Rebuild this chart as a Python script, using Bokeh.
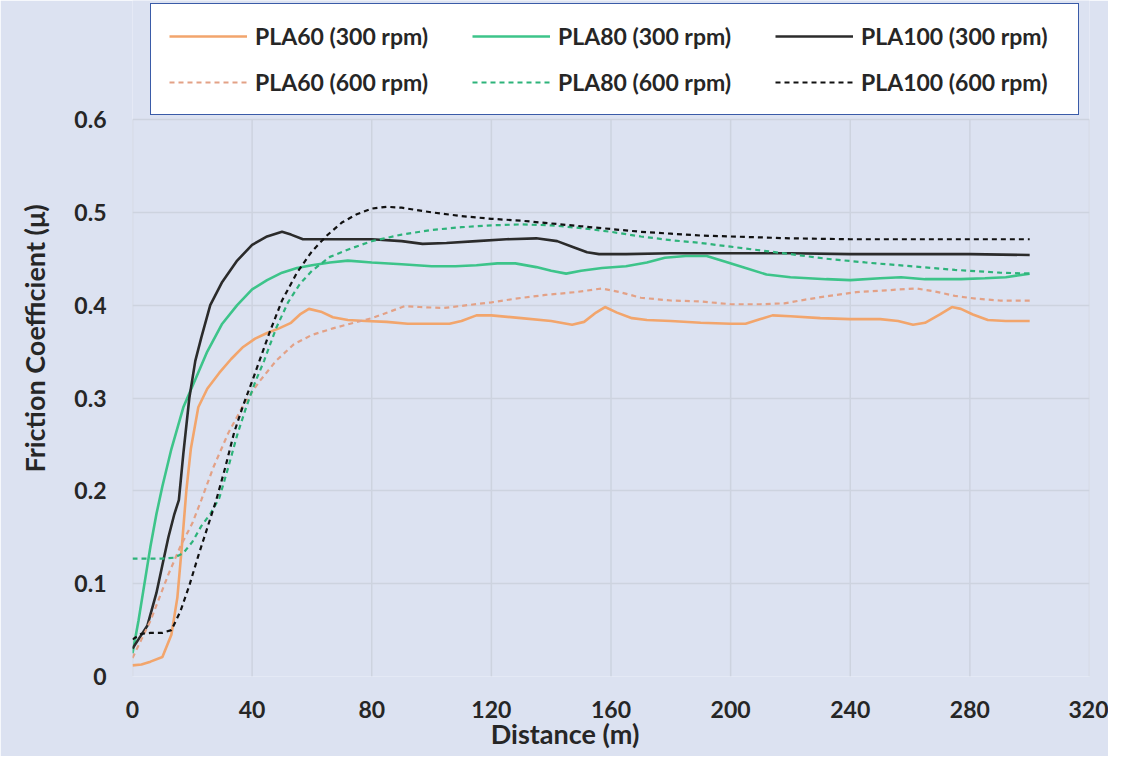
from bokeh.plotting import figure
from bokeh.models import Range1d, Legend, LegendItem, FixedTicker
from bokeh.embed import file_html
from bokeh.resources import INLINE

# ---- data ----
x_pla60_300 = [0, 3, 6, 10, 13, 15, 16.5, 18, 19.5, 22, 25, 29, 33, 37, 41, 45, 49, 53, 56, 59, 63, 67, 72, 78, 85, 92,
               100, 106, 110, 115, 120, 130, 140, 147, 151, 155, 158, 162, 167, 172, 180, 190, 200, 205, 210, 214,
               220, 230, 240, 250, 256, 261, 265, 270, 274, 277, 281, 286, 292, 300]
y_pla60_300 = [0.012, 0.013, 0.016, 0.021, 0.045, 0.085, 0.14, 0.2, 0.245, 0.29, 0.31, 0.327, 0.342, 0.355, 0.364,
               0.37, 0.375, 0.381, 0.39, 0.396, 0.393, 0.387, 0.384, 0.383, 0.382, 0.38, 0.38, 0.38, 0.383, 0.389,
               0.389, 0.386, 0.383, 0.379, 0.382, 0.392, 0.398, 0.392, 0.386, 0.384, 0.383, 0.381, 0.38, 0.38,
               0.385, 0.389, 0.388, 0.386, 0.385, 0.385, 0.383, 0.379, 0.381, 0.39, 0.398, 0.396, 0.39, 0.384,
               0.383, 0.383]

x_pla60_600 = [0, 3, 6, 9, 12, 16, 20, 23, 27, 32, 37, 42, 48, 54, 60, 67, 74, 80, 86, 91, 96, 104, 112, 120, 128,
               138, 148, 157, 163, 170, 180, 190, 200, 210, 218, 225, 233, 242, 252, 262, 268, 275, 282, 290, 300]
y_pla60_600 = [0.02, 0.04, 0.06, 0.085, 0.11, 0.14, 0.165, 0.19, 0.225, 0.262, 0.292, 0.316, 0.34, 0.358, 0.368,
               0.375, 0.381, 0.386, 0.393, 0.399, 0.398, 0.397, 0.4, 0.403, 0.407, 0.411, 0.414, 0.418, 0.414,
               0.408, 0.405, 0.404, 0.401, 0.401, 0.402, 0.406, 0.41, 0.414, 0.416, 0.418, 0.415, 0.41, 0.407,
               0.405, 0.405]

x_pla80_300 = [0, 2, 4, 6, 8, 10, 13, 17, 21, 25, 30, 35, 40, 45, 50, 55, 60, 66, 72, 80, 90, 100, 108, 115, 122,
               128, 135, 140, 145, 150, 157, 165, 172, 178, 185, 192, 198, 205, 212, 220, 232, 240, 250, 257, 265,
               277, 285, 292, 300]
y_pla80_300 = [0.025, 0.06, 0.1, 0.14, 0.175, 0.205, 0.245, 0.29, 0.32, 0.35, 0.38, 0.4, 0.417, 0.427, 0.435, 0.44,
               0.443, 0.446, 0.448, 0.446, 0.444, 0.442, 0.442, 0.443, 0.445, 0.445, 0.441, 0.437, 0.434, 0.437,
               0.44, 0.442, 0.446, 0.451, 0.453, 0.453, 0.447, 0.44, 0.433, 0.43, 0.428, 0.427, 0.429, 0.43, 0.428,
               0.428, 0.429, 0.43, 0.434]

x_pla80_600 = [0, 5, 10, 14, 17, 20, 23, 26, 29, 32, 35, 38, 41, 44, 48, 52, 56, 60, 66, 73, 80, 90, 100, 110, 120,
               130, 140, 150, 160, 170, 180, 190, 200, 210, 220, 232, 245, 260, 275, 290, 300]
y_pla80_600 = [0.127, 0.127, 0.127, 0.128, 0.133, 0.145, 0.162, 0.175, 0.192, 0.225, 0.26, 0.29, 0.317, 0.34, 0.375,
               0.403, 0.423, 0.437, 0.452, 0.461, 0.469, 0.476, 0.481, 0.484, 0.486, 0.487, 0.486, 0.483, 0.479,
               0.474, 0.47, 0.467, 0.463, 0.459, 0.455, 0.45, 0.446, 0.442, 0.438, 0.435, 0.434]

x_pla100_300 = [0, 2, 5, 8, 10, 12, 14, 15.5, 17, 19, 21, 23, 26, 30, 35, 40, 45, 50, 53, 57, 62, 70, 80, 90, 97,
                105, 115, 125, 135, 142, 147, 152, 156, 165, 180, 200, 220, 240, 260, 280, 300]
y_pla100_300 = [0.03, 0.04, 0.055, 0.09, 0.12, 0.15, 0.175, 0.19, 0.24, 0.3, 0.34, 0.365, 0.4, 0.425, 0.448, 0.465,
                0.474, 0.479, 0.476, 0.471, 0.471, 0.471, 0.471, 0.469, 0.466, 0.467, 0.469, 0.471, 0.472, 0.469,
                0.463, 0.457, 0.455, 0.455, 0.456, 0.456, 0.456, 0.455, 0.455, 0.455, 0.454]

x_pla100_600 = [0, 3, 6, 10, 13, 16, 19, 22, 25, 28, 31, 34, 37, 40, 43, 46, 50, 55, 60, 65, 70, 75, 80, 85, 90, 100,
                110, 120, 130, 140, 150, 160, 170, 180, 190, 200, 220, 240, 260, 280, 300]
y_pla100_600 = [0.04, 0.046, 0.047, 0.047, 0.05, 0.07, 0.098, 0.13, 0.16, 0.19, 0.225, 0.263, 0.292, 0.318, 0.345,
                0.372, 0.405, 0.435, 0.458, 0.475, 0.489, 0.498, 0.504, 0.506, 0.505, 0.5, 0.496, 0.493, 0.491,
                0.488, 0.485, 0.482, 0.479, 0.477, 0.475, 0.474, 0.472, 0.471, 0.471, 0.471, 0.471]

labels = ["PLA60 (300 rpm)", "PLA80 (300 rpm)", "PLA100 (300 rpm)",
          "PLA60 (600 rpm)", "PLA80 (600 rpm)", "PLA100 (600 rpm)"]
x_ticks = [0, 40, 80, 120, 160, 200, 240, 280, 320]
y_ticks = [0, 0.1, 0.2, 0.3, 0.4, 0.5, 0.6]
y_axis_max = 0.6

FONT = "Lato"
TXT = "#262626"
BG = "#dce2f1"
GRID = "#cdd3df"

W, H = 1108, 756
B_LEFT, B_RIGHT, B_BOTTOM, PLOT_TOP = 132, 19, 80, 119
frame_h = H - B_BOTTOM
# frame reaches the top of the figure so the legend can sit above the 0.6 line
y_top = y_axis_max * frame_h / (frame_h - PLOT_TOP)

p = figure(width=W, height=H, output_backend="svg", toolbar_location=None,
           x_range=Range1d(0, 320), y_range=Range1d(0, y_top),
           min_border_left=B_LEFT, min_border_right=B_RIGHT, min_border_top=0, min_border_bottom=B_BOTTOM)
p.background_fill_color = BG
p.border_fill_color = BG
p.outline_line_color = None

p.xgrid.visible = False
p.ygrid.grid_line_color = GRID
p.ygrid.grid_line_width = 1.5
# vertical gridlines only up to the top of the value axis
p.segment(x0=x_ticks, y0=[0] * len(x_ticks), x1=x_ticks, y1=[y_axis_max] * len(x_ticks),
          line_color=GRID, line_width=1.5)

p.xaxis.ticker = FixedTicker(ticks=x_ticks)
p.yaxis.ticker = FixedTicker(ticks=y_ticks)
p.yaxis.major_label_overrides = {0: "0"}
for ax in (p.xaxis[0], p.yaxis[0]):
    ax.axis_line_color = None
    ax.major_tick_line_color = None
    ax.minor_tick_line_color = None
    ax.major_tick_out = 0
    ax.major_tick_in = 0
    ax.minor_tick_out = 0
    ax.minor_tick_in = 0
    ax.major_label_text_font = FONT
    ax.major_label_text_font_style = "bold"
    ax.major_label_text_font_size = "23px"
    ax.major_label_text_color = TXT
    ax.axis_label_text_font = FONT
    ax.axis_label_text_font_style = "bold"
    ax.axis_label_text_font_size = "27px"
    ax.axis_label_text_color = TXT
# trailing no-break spaces shift the centred title left, as in the reference
p.xaxis.axis_label = "Distance (m)" + "\u00a0" * 14
p.yaxis.axis_label = "Friction Coefficient (\u03bc)"
p.xaxis.major_label_standoff = 24
p.xaxis.axis_label_standoff = -4
p.yaxis.major_label_standoff = 26
p.yaxis.axis_label_standoff = 20

r1 = p.line(x_pla60_300, y_pla60_300, line_color="#F2A56C", line_width=2.6)
r2 = p.line(x_pla80_300, y_pla80_300, line_color="#3DC48A", line_width=2.6)
r3 = p.line(x_pla100_300, y_pla100_300, line_color="#2b2b2b", line_width=2.6)
r4 = p.line(x_pla60_600, y_pla60_600, line_color="#E3A186", line_width=2.2, line_dash="5 4")
r5 = p.line(x_pla80_600, y_pla80_600, line_color="#2DB37A", line_width=2.2, line_dash="5 4")
r6 = p.line(x_pla100_600, y_pla100_600, line_color="#111111", line_width=2.2, line_dash="5 4")

items = [LegendItem(label=lab, renderers=[r]) for lab, r in zip(labels, [r1, r2, r3, r4, r5, r6])]
legend = Legend(items=items, orientation="horizontal", ncols=3, location=(18, frame_h - 115),
                glyph_width=78, glyph_height=28, label_standoff=8, label_width=199, spacing=18,
                padding=18, margin=0,
                label_text_font=FONT, label_text_font_style="bold", label_text_font_size="23px",
                label_text_color=TXT, background_fill_color="white", background_fill_alpha=1.0,
                border_line_color="#3a5ba8", border_line_alpha=1.0, border_line_width=1.5)
p.add_layout(legend, "center")

open("out.html", "w").write(file_html(p, INLINE))
